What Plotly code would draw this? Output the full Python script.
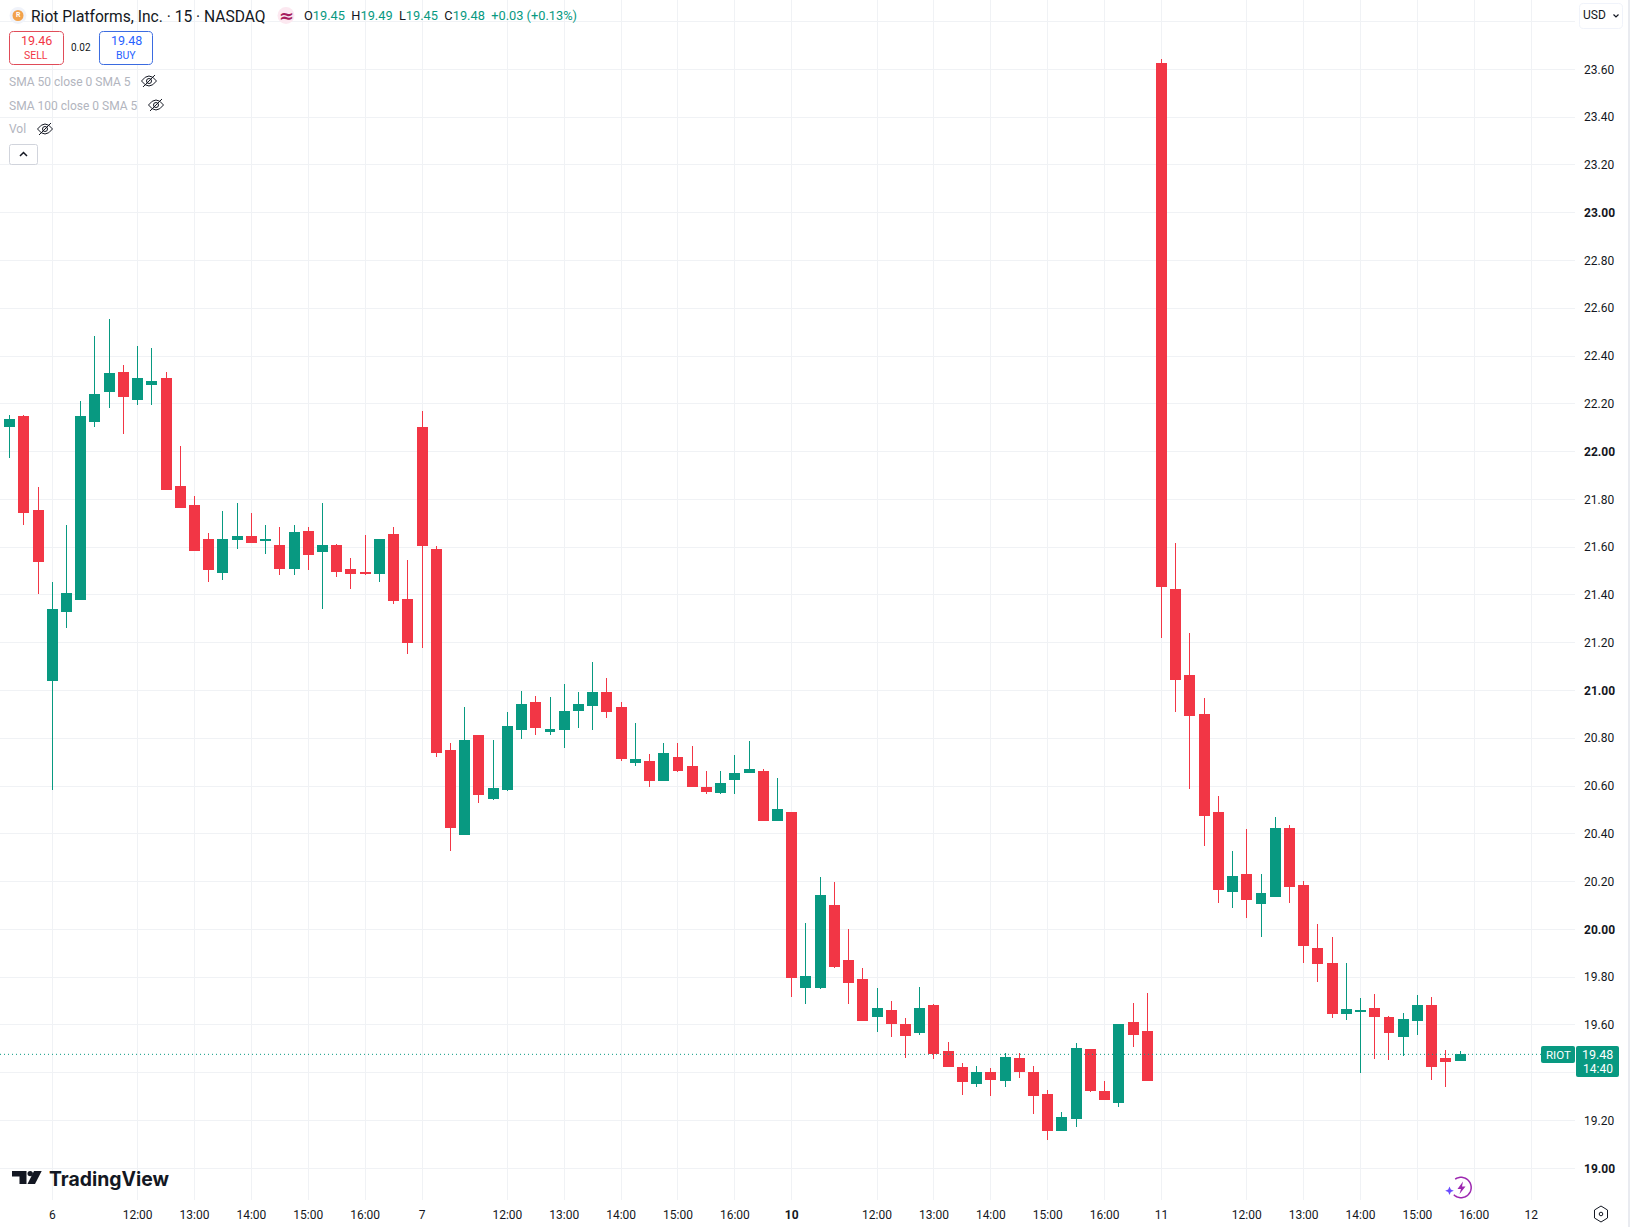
import math
import plotly.graph_objects as go

W, H = 1630, 1227
PLOT_R, PLOT_B = 1575, 1200
GREEN, RED, INK, GRID, MUTED = "#089981", "#F23645", "#131722", "#F0F2F5", "#B2B5BE"
FONT = "Roboto"

opens = [22.107,22.145,21.752,21.04,21.329,21.379,22.128,22.25,22.333,22.22,22.279,22.304,21.852,21.773,21.634,21.492,21.63,21.643,21.626,21.605,21.509,21.664,21.58,21.605,21.505,21.496,21.488,21.655,21.383,
         22.101,21.59,20.749,20.397,20.812,20.548,20.586,20.837,20.95,20.828,20.837,20.916,20.937,20.992,20.929,20.699,20.703,20.623,20.72,20.682,20.594,20.573,20.628,20.657,20.661,20.456,
         20.488,19.756,19.756,20.099,19.869,19.789,19.634,19.66,19.601,19.567,19.68,19.488,19.421,19.354,19.4,19.367,19.459,19.4,19.308,19.157,19.207,19.496,19.32,19.274,19.609,19.572,
         23.623,21.421,21.061,20.898,20.488,20.158,20.229,20.107,20.137,20.421,20.183,19.919,19.856,19.647,19.657,19.668,19.63,19.551,19.618,19.68,19.459,19.45]
highs = [22.153,22.153,21.852,21.454,21.693,22.212,22.484,22.555,22.363,22.442,22.434,22.333,22.024,21.814,21.66,21.752,21.786,21.743,21.693,21.685,21.693,21.685,21.786,21.613,21.555,21.65,21.634,21.685,21.547,
         22.172,21.603,20.782,20.929,20.812,20.791,20.912,21.0,20.979,20.971,21.029,20.992,21.121,21.054,20.95,20.862,20.736,20.782,20.782,20.766,20.661,20.661,20.732,20.787,20.67,20.632,
         20.488,20.028,20.22,20.2,20.0,19.84,19.756,19.701,19.63,19.76,19.689,19.53,19.442,19.429,19.421,19.484,19.484,19.429,19.329,19.237,19.526,19.5,19.367,19.605,19.693,19.735,
         23.643,21.618,21.241,20.969,20.56,20.329,20.421,20.233,20.472,20.438,20.204,20.024,19.969,19.86,19.714,19.731,19.639,19.651,19.727,19.718,19.496,19.49]
lows = [21.975,21.693,21.404,20.584,21.262,21.379,22.103,22.183,22.074,22.195,22.195,21.84,21.764,21.588,21.454,21.463,21.593,21.618,21.572,21.484,21.484,21.505,21.341,21.475,21.425,21.484,21.454,21.362,21.153,
        21.18,20.72,20.33,20.397,20.531,20.54,20.581,20.799,20.812,20.812,20.761,20.841,20.833,20.883,20.703,20.686,20.594,20.623,20.657,20.598,20.565,20.565,20.565,20.657,20.456,20.456,
        19.718,19.689,19.752,19.84,19.689,19.618,19.572,19.551,19.463,19.559,19.459,19.425,19.308,19.341,19.304,19.341,19.379,19.228,19.12,19.157,19.174,19.32,19.287,19.258,19.509,19.367,
        21.22,20.911,20.588,20.35,20.112,20.091,20.049,19.969,20.137,20.112,19.86,19.781,19.63,19.622,19.4,19.459,19.455,19.471,19.559,19.37,19.341,19.45]
closes = [22.133,21.747,21.538,21.341,21.404,22.145,22.241,22.325,22.229,22.304,22.292,21.84,21.764,21.588,21.505,21.634,21.643,21.618,21.634,21.509,21.66,21.568,21.605,21.5,21.488,21.488,21.634,21.375,21.199,
          21.607,20.741,20.427,20.791,20.565,20.59,20.849,20.941,20.845,20.837,20.912,20.941,20.992,20.912,20.715,20.711,20.623,20.736,20.665,20.598,20.577,20.611,20.653,20.67,20.456,20.502,
          19.798,19.802,20.141,19.844,19.777,19.618,19.668,19.605,19.555,19.668,19.48,19.425,19.362,19.4,19.371,19.463,19.404,19.304,19.157,19.212,19.5,19.325,19.287,19.601,19.559,19.367,
          21.434,21.045,20.894,20.475,20.166,20.22,20.124,20.149,20.421,20.179,19.932,19.856,19.647,19.664,19.66,19.634,19.568,19.622,19.68,19.425,19.446,19.477]
first_bar = -3
bar_index = list(range(first_bar, first_bar + len(closes)))

x_tick_bars = [0,6,10,14,18,22,26,32,36,40,44,48,52,58,62,66,70,74,78,84,88,92,96,100,104]
x_tick_labels = ["6","12:00","13:00","14:00","15:00","16:00","7","12:00","13:00","14:00","15:00","16:00","<b>10</b>",
                 "12:00","13:00","14:00","15:00","16:00","11","12:00","13:00","14:00","15:00","16:00","12"]
price_ticks = [19.0,19.2,19.4,19.6,19.8,20.0,20.2,20.4,20.6,20.8,21.0,21.2,21.4,21.6,21.8,22.0,22.2,22.4,22.6,22.8,23.0,23.2,23.4,23.6,23.8]
price_labels = [("<b>%.2f</b>" % p if abs(p - round(p)) < 1e-6 else "%.2f" % p) for p in price_ticks]
price_labels[-1] = ""

BAR_STEP = 14.22
BAR_ZERO_PX = 52.3
PRICE_PX = 238.9
PRICE_19_PX = 1168.3

def px(x): return x / W
def py(y): return 1 - y / H

fig = go.Figure(go.Candlestick(
    x=bar_index, open=opens, high=highs, low=lows, close=closes,
    increasing=dict(line=dict(color=GREEN, width=1), fillcolor=GREEN),
    decreasing=dict(line=dict(color=RED, width=1), fillcolor=RED),
    whiskerwidth=0, showlegend=False, hoverinfo="skip",
))

shapes, notes = [], []

def text(x, y, s, size=12, color=INK, anchor="left", family=FONT):
    notes.append(dict(x=px(x), y=py(y), xref="paper", yref="paper", text=s, showarrow=False,
                      xanchor=anchor, yanchor="middle", align=anchor,
                      font=dict(family=family, size=size, color=color),
                      borderpad=0, borderwidth=0))

def path(d, line=None, fill=None, width=1, layer="above", dash=None):
    ln = dict(width=width if line else 0, color=line or "rgba(0,0,0,0)")
    if dash: ln["dash"] = dash
    shapes.append(dict(type="path", xref="paper", yref="paper", path=d, line=ln,
                       fillcolor=fill or "rgba(0,0,0,0)", layer=layer))

def pts(seq, close=False):
    d = ""
    for k, (x, y) in enumerate(seq):
        d += ("M" if k == 0 else "L") + f"{px(x):.5f},{py(y):.5f} "
    return d + ("Z" if close else "")

def rrect(x0, y0, x1, y1, r=3, **kw):
    a, b, c, e = x0 + r, x1 - r, y0 + r, y1 - r
    seq = f"M{px(a):.5f},{py(y0):.5f} L{px(b):.5f},{py(y0):.5f} Q{px(x1):.5f},{py(y0):.5f} {px(x1):.5f},{py(c):.5f} " \
          f"L{px(x1):.5f},{py(e):.5f} Q{px(x1):.5f},{py(y1):.5f} {px(b):.5f},{py(y1):.5f} " \
          f"L{px(a):.5f},{py(y1):.5f} Q{px(x0):.5f},{py(y1):.5f} {px(x0):.5f},{py(e):.5f} " \
          f"L{px(x0):.5f},{py(c):.5f} Q{px(x0):.5f},{py(y0):.5f} {px(a):.5f},{py(y0):.5f} Z"
    path(seq, **kw)

def circle(cx, cy, r, line=None, fill=None, width=1):
    shapes.append(dict(type="circle", xref="paper", yref="paper", x0=px(cx-r), x1=px(cx+r), y0=py(cy-r), y1=py(cy+r),
                       line=dict(width=width if line else 0, color=line or "rgba(0,0,0,0)"),
                       fillcolor=fill or "rgba(0,0,0,0)", layer="above"))

def eye(cx, cy):
    path(f"M{px(cx-7.5):.5f},{py(cy):.5f} Q{px(cx):.5f},{py(cy-10):.5f} {px(cx+7.5):.5f},{py(cy):.5f} "
         f"Q{px(cx):.5f},{py(cy+10):.5f} {px(cx-7.5):.5f},{py(cy):.5f} Z", line=INK, width=1)
    circle(cx, cy, 2.5, line=INK)
    path(pts([(cx-6, cy+6), (cx+6, cy-6)]), line=INK, width=1)

# current price line and tags
shapes.append(dict(type="line", xref="paper", yref="y", x0=0, x1=px(PLOT_R), y0=closes[-1], y1=closes[-1],
                   line=dict(color=GREEN, width=1, dash="1px,3px"), layer="above"))
rrect(1541, 1046, 1575, 1063, r=2, fill=GREEN)
rrect(1576, 1046, 1619, 1077, r=2, fill=GREEN)
text(1558, 1054.5, "RIOT", 11.5, "#FFFFFF", "center")
text(1597.5, 1054.5, "19.48", 12.5, "#FFFFFF", "center")
text(1597.5, 1068.5, "14:40", 12, "#FFFFFF", "center")

# header
circle(18, 15.5, 8.5, fill="#F0F3FA")
circle(18, 15.5, 5.5, fill="#F2A24C")
text(18, 15.5, "<b>R</b>", 7, "#FFFFFF", "center")
text(30.5, 16.5, "Riot Platforms, Inc. · 15 · NASDAQ", 15.6)
circle(286, 15.5, 8.5, fill="#FCE8F0")
text(286, 15, "<b>≈</b>", 18, "#A61C5C", "center", "DejaVu Sans")
v = f'<span style="color:{GREEN}">'
text(303.5, 16, f'O{v}19.45</span>  H{v}19.49</span>  L{v}19.45</span>  C{v}19.48</span>  {v}+0.03 (+0.13%)</span>', 12.8)

rrect(9.5, 31.5, 63.5, 64.5, r=4, line="#E04B58", fill="#FFFFFF")
rrect(99.5, 31.5, 152.5, 64.5, r=4, line="#3A6BE0", fill="#FFFFFF")
text(36, 41, "19.46", 12.5, RED, "center")
text(36, 55, "SELL", 10.5, RED, "center")
text(126, 41, "19.48", 12.5, "#2962FF", "center")
text(126, 55, "BUY", 10.5, "#2962FF", "center")
text(81, 47.5, "0.02", 10, INK, "center")

text(9, 81.5, "SMA 50 close 0 SMA 5", 12, MUTED)
text(9, 106, "SMA 100 close 0 SMA 5", 12, MUTED)
text(9, 129.5, "Vol", 12, MUTED)
eye(149, 81); eye(156, 105); eye(45, 129)
rrect(9.5, 144.5, 37.5, 164.5, r=2, line="#D1D4DC", fill="#FFFFFF")
path(pts([(20, 156), (23.5, 152.5), (27, 156)]), line=INK, width=1.5)

# currency button and right edge
rrect(1579.5, 3.5, 1622.5, 28.5, r=4, line="#F0F3FA", fill="#FFFFFF")
text(1583, 15.5, "USD", 12, INK, "left")
path(pts([(1613.5, 14.5), (1616, 17), (1618.5, 14.5)]), line=INK, width=1.2)
shapes.append(dict(type="rect", xref="paper", yref="paper", x0=px(1628), x1=1, y0=0, y1=1,
                   fillcolor="#E9EBF0", line=dict(width=0), layer="above"))

# TradingView mark
path(pts([(12, 1171), (26.5, 1171), (26.5, 1184), (19.5, 1184), (19.5, 1176.5), (12, 1176.5)], True), fill=INK)
circle(30.2, 1173.6, 2.7, fill=INK)
path(pts([(34, 1171), (41.7, 1171), (35, 1184), (27.5, 1184)], True), fill=INK)
text(48.5, 1179, "<b>TradingView</b>", 19.4, INK, "left", "Inter")

# lightning badge: ring with a gap where the spark sits
ring = [(1461 + 10.2 * math.cos(math.radians(a)), 1187.5 + 10.2 * math.sin(math.radians(a))) for a in range(-125, 136, 10)]
path(pts(ring), line="#9C27B0", width=1.5)
path(pts([(1463, 1181.5), (1457.5, 1189), (1461, 1189), (1459.5, 1194), (1465.5, 1186.5), (1462, 1186.5)], True), fill="#9C27B0")
path(pts([(1449.5, 1186.5), (1450.8, 1189.5), (1453.8, 1190.8), (1450.8, 1192), (1449.5, 1195), (1448.2, 1192), (1445.2, 1190.8), (1448.2, 1189.5)], True), fill="#6B4DFF")

# settings glyph
path(pts([(1601, 1206), (1607.5, 1210), (1607.5, 1218), (1601, 1222), (1594.5, 1218), (1594.5, 1210)], True), line=INK, width=1)
circle(1601, 1214, 1.8, line=INK)

fig.update_layout(
    width=W, height=H, margin=dict(l=0, r=0, t=0, b=0), autosize=False,
    paper_bgcolor="#FFFFFF", plot_bgcolor="#FFFFFF", showlegend=False,
    boxgap=0.3, boxgroupgap=0, hovermode=False, dragmode=False,
    font=dict(family=FONT, size=12, color=INK),
    shapes=shapes, annotations=notes,
    xaxis=dict(
        domain=[0, PLOT_R / W], anchor="y",
        range=[-BAR_ZERO_PX / BAR_STEP, (PLOT_R - BAR_ZERO_PX) / BAR_STEP],
        tickmode="array", tickvals=x_tick_bars, ticktext=x_tick_labels,
        showgrid=True, gridcolor=GRID, gridwidth=1, zeroline=False, showline=False,
        ticks="", ticklabelstandoff=6, rangeslider=dict(visible=False), automargin=False,
        tickfont=dict(family=FONT, size=12, color=INK), fixedrange=True,
    ),
    yaxis=dict(
        domain=[1 - PLOT_B / H, 1], anchor="x", side="right",
        range=[19 + (PRICE_19_PX - PLOT_B) / PRICE_PX, 19 + PRICE_19_PX / PRICE_PX],
        tickmode="array", tickvals=price_ticks, ticktext=price_labels,
        showgrid=True, gridcolor=GRID, gridwidth=1, zeroline=False, showline=False,
        ticks="", ticklabelstandoff=8, automargin=False,
        tickfont=dict(family=FONT, size=12, color=INK), fixedrange=True,
    ),
)

fig.write_html("out.html", config=dict(displayModeBar=False),
               post_script="document.body.style.margin='0';document.documentElement.style.overflow='hidden';"
                           "document.querySelectorAll('.boxlayer path').forEach(function(p){p.style.shapeRendering='crispEdges';});")
